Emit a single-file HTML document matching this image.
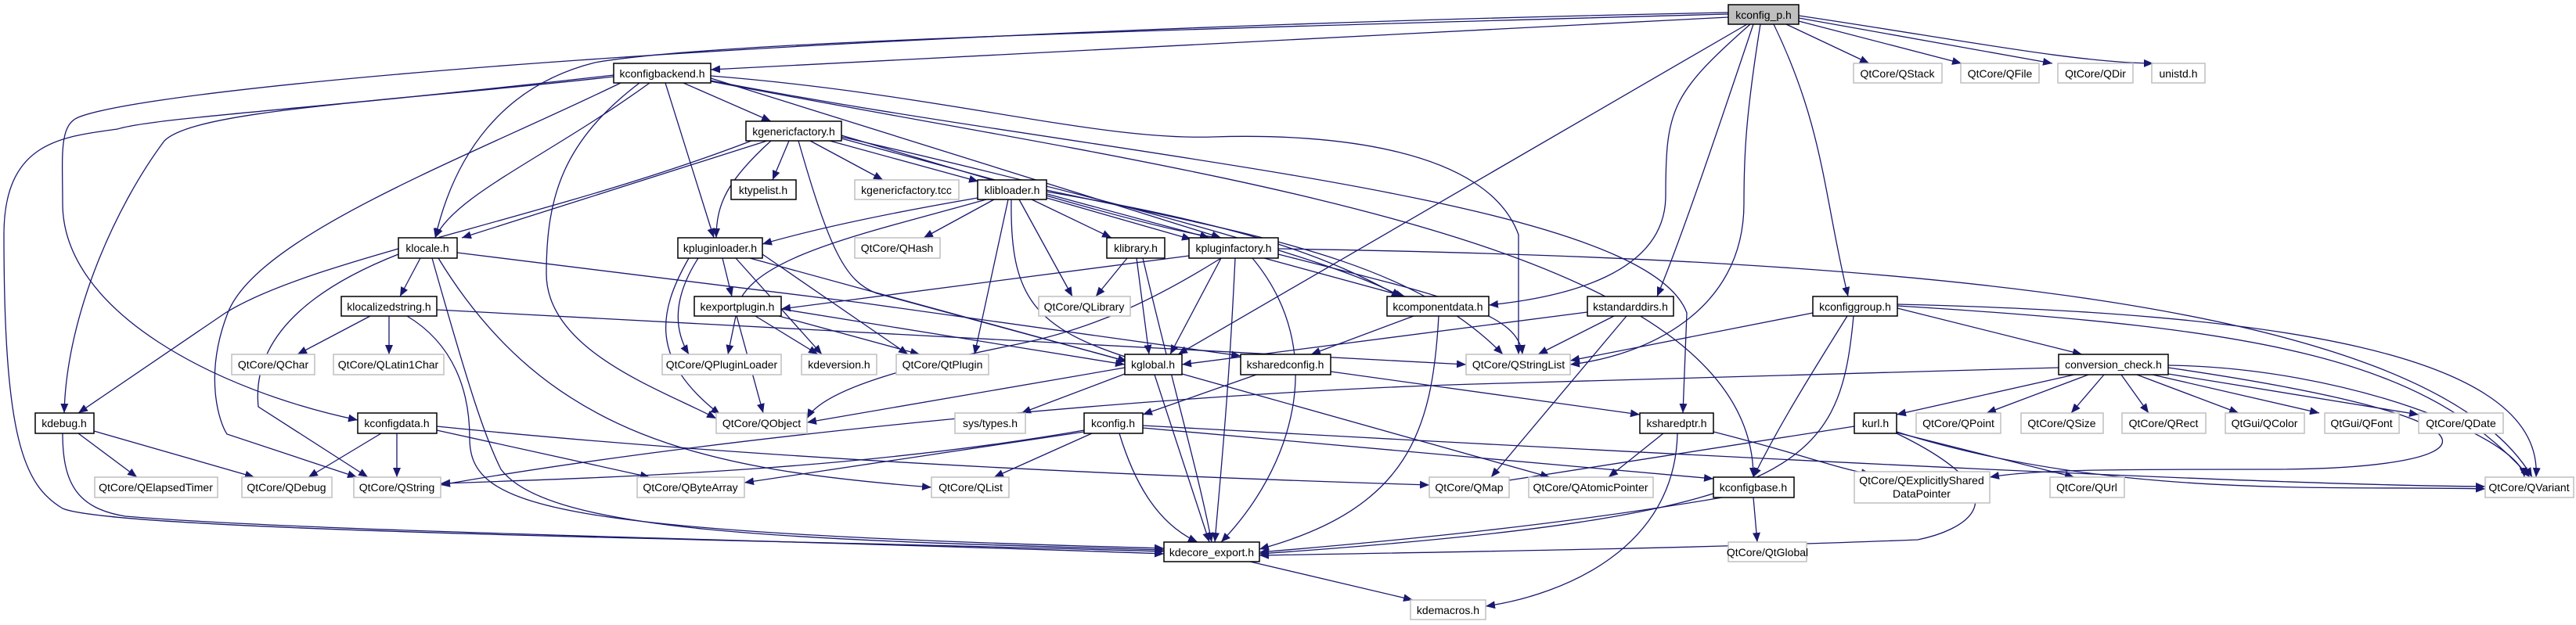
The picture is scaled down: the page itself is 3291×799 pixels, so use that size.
<!DOCTYPE html>
<html><head><meta charset="utf-8"><style>
html,body{margin:0;padding:0;background:#fff;}
svg{display:block;}
text{font-family:"Liberation Sans",Arial,sans-serif;font-size:14px;fill:#000;}
.e{fill:none;stroke:#191970;stroke-width:1.3;marker-end:url(#a);}
.n rect{fill:#fff;stroke:#000;stroke-width:1.5;}
.l rect{fill:#fff;stroke:#bfbfbf;stroke-width:1.5;}
</style></head><body>
<svg width="3291" height="799" viewBox="0 0 3291 799" xmlns="http://www.w3.org/2000/svg">
<defs><marker id="a" markerUnits="userSpaceOnUse" markerWidth="13" markerHeight="10" refX="12" refY="5" orient="auto"><path d="M0,0 L12,5 L0,10 z" fill="#191970"/></marker></defs>
<g>
<!-- kconfig_p -->
<path class="e" d="M2208,22 L908,89"/>
<path class="e" d="M2208,18 C1400,40 900,55 760,80 C640,110 580,200 556,304"/>
<path class="e" d="M2208,16 C1000,40 200,110 100,150 C75,160 80,200 80,260 C80,400 280,500 457,537"/>
<path class="e" d="M2232,31 L1505,453"/>
<path class="e" d="M2236,31 C2135,120 2128,140 2128,250 C2128,350 2000,380 1902,390"/>
<path class="e" d="M2249,31 C2230,150 2228,200 2228,260 C2228,400 2100,455 2006,466"/>
<path class="e" d="M2240,31 C2200,150 2150,300 2117,379"/>
<path class="e" d="M2266,31 C2330,163 2330,250 2361,379"/>
<path class="e" d="M2282,31 L2388,81"/>
<path class="e" d="M2298,27 L2506,81"/>
<path class="e" d="M2298,23 L2622,81"/>
<path class="e" d="M2298,20 C2500,50 2650,80 2751,81"/>
<!-- kconfigbackend -->
<path class="e" d="M784,98 C500,130 250,140 210,180 C150,260 85,400 82,528"/>
<path class="e" d="M784,96 C400,140 200,150 150,165 C80,175 5,180 5,300 C5,560 30,620 80,650 C150,680 1000,690 1487,705"/>
<path class="e" d="M793,106 C600,200 330,300 291,400 C260,480 280,540 290,555 L456,610"/>
<path class="e" d="M830,106 C700,200 580,250 556,304"/>
<path class="e" d="M817,106 C720,180 698,250 698,350 C698,450 850,500 915,535"/>
<path class="e" d="M850,106 L912,304"/>
<path class="e" d="M873,106 L985,155"/>
<path class="e" d="M908,97 C1200,120 1400,180 1550,175 C1700,170 1900,190 1940,300 L1940,453"/>
<path class="e" d="M908,103 C1400,200 2100,250 2155,400 L2150,528"/>
<path class="e" d="M908,100 L1560,304"/>
<path class="e" d="M908,104 C1500,220 2240,300 2240,610"/>
<!-- kgenericfactory -->
<path class="e" d="M960,180 C700,280 400,330 288,400 L100,528"/>
<path class="e" d="M980,180 L590,304"/>
<path class="e" d="M1008,180 L987,230"/>
<path class="e" d="M1035,180 L1128,230"/>
<path class="e" d="M1060,180 L1250,232"/>
<path class="e" d="M985,180 C930,230 915,260 915,304"/>
<path class="e" d="M1075,177 L1545,304"/>
<path class="e" d="M1075,173 C1300,240 1500,300 1560,304"/>
<path class="e" d="M1020,180 C1060,320 1080,360 1120,375 L1440,462"/>
<path class="e" d="M1075,175 C1400,250 1700,330 1790,379"/>
<!-- klibloader -->
<path class="e" d="M1270,255 L1180,304"/>
<path class="e" d="M1302,255 L1370,379"/>
<path class="e" d="M1318,255 L1420,304"/>
<path class="e" d="M1337,253 L1522,306"/>
<path class="e" d="M1249,253 C1150,270 1050,290 974,312"/>
<path class="e" d="M1260,255 C1100,300 950,330 940,400 L975,528"/>
<path class="e" d="M1288,255 L1245,453"/>
<path class="e" d="M1292,255 C1290,380 1320,420 1450,460"/>
<path class="e" d="M1337,245 C1600,290 1700,330 1790,380"/>
<path class="e" d="M1337,243 C1600,300 1800,330 1920,453"/>
<!-- klocale -->
<path class="e" d="M537,330 L511,379"/>
<path class="e" d="M509,325 C420,360 320,420 330,520 L470,610"/>
<path class="e" d="M552,330 C600,500 620,560 640,600 C700,680 1000,690 1487,703"/>
<path class="e" d="M560,330 C700,560 900,600 1190,623"/>
<path class="e" d="M584,323 L1100,387 L1585,455"/>
<!-- klocalizedstring -->
<path class="e" d="M473,404 L380,453"/>
<path class="e" d="M497,404 L497,453"/>
<path class="e" d="M520,404 C580,440 600,500 600,560 C600,650 700,680 1487,701"/>
<path class="e" d="M558,396 L1873,466"/>
<!-- kpluginloader -->
<path class="e" d="M923,330 L935,379"/>
<path class="e" d="M892,330 C860,380 860,420 880,453"/>
<path class="e" d="M880,330 C840,400 830,460 920,530"/>
<path class="e" d="M940,330 L1050,453"/>
<path class="e" d="M958,330 L1440,462"/>
<path class="e" d="M974,325 L1160,453"/>
<!-- kexportplugin -->
<path class="e" d="M940,404 L930,453"/>
<path class="e" d="M965,404 L1045,453"/>
<path class="e" d="M995,404 L1175,453"/>
<path class="e" d="M998,395 L1437,466"/>
<!-- klibrary, kpluginfactory -->
<path class="e" d="M1440,330 L1400,379"/>
<path class="e" d="M1452,330 L1468,453"/>
<path class="e" d="M1460,330 C1500,500 1530,600 1548,693"/>
<path class="e" d="M1560,330 C1480,380 1400,420 1300,440 C1150,470 1050,500 1031,535"/>
<path class="e" d="M1519,327 L998,395"/>
<path class="e" d="M1560,330 L1495,453"/>
<path class="e" d="M1578,330 C1570,500 1560,600 1552,693"/>
<path class="e" d="M1615,330 L1795,379"/>
<path class="e" d="M1633,325 C1850,380 1940,400 1945,453"/>
<path class="e" d="M1633,318 C2400,330 3100,380 3235,610"/>
<path class="e" d="M1600,330 C1700,450 1650,600 1560,693"/>
<!-- kcomponentdata, kstandarddirs, kconfiggroup -->
<path class="e" d="M1806,404 L1675,453"/>
<path class="e" d="M1838,404 C1830,550 1800,650 1609,702"/>
<path class="e" d="M2028,399 L1510,466"/>
<path class="e" d="M2062,404 L1965,453"/>
<path class="e" d="M2078,404 L1905,610"/>
<path class="e" d="M2316,400 L2006,461"/>
<path class="e" d="M2360,404 C2300,500 2270,550 2240,610"/>
<path class="e" d="M2424,394 L2660,453"/>
<path class="e" d="M2368,404 C2350,600 2300,660 1609,708"/>
<path class="e" d="M2424,391 C2900,420 3100,460 3232,610"/>
<path class="e" d="M2424,389 C2900,400 3250,450 3240,610"/>
<!-- conversion_check -->
<path class="e" d="M2630,470 L1920,490 C1500,500 900,560 563,620"/>
<path class="e" d="M2650,479 L2423,530"/>
<path class="e" d="M2668,479 L2538,528"/>
<path class="e" d="M2688,479 L2646,528"/>
<path class="e" d="M2710,479 L2745,528"/>
<path class="e" d="M2730,479 L2860,528"/>
<path class="e" d="M2750,479 L2963,528"/>
<path class="e" d="M2770,478 L3090,530"/>
<path class="e" d="M2770,467 C3000,470 3220,560 3225,610"/>
<path class="e" d="M2770,470 C3250,540 3180,600 2900,600 C2700,600 2600,600 2542,610"/>
<!-- kglobal, ksharedconfig, kconfig -->
<path class="e" d="M1437,478 L1305,528"/>
<path class="e" d="M1437,470 L1031,540"/>
<path class="e" d="M1475,479 L1545,693"/>
<path class="e" d="M1510,478 L1980,610"/>
<path class="e" d="M1605,479 L1460,530"/>
<path class="e" d="M1700,475 L2095,530"/>
<path class="e" d="M1395,554 L1270,610"/>
<path class="e" d="M1385,550 C1100,600 800,610 563,618"/>
<path class="e" d="M1385,552 L951,617"/>
<path class="e" d="M1430,554 C1450,620 1480,670 1530,693"/>
<path class="e" d="M1460,547 L2189,612"/>
<path class="e" d="M1460,544 C2300,590 2900,620 3175,622"/>
<!-- kconfigdata, kdebug -->
<path class="e" d="M487,554 L394,610"/>
<path class="e" d="M507,554 L507,610"/>
<path class="e" d="M558,550 L830,610"/>
<path class="e" d="M558,545 C1000,590 1500,610 1826,620"/>
<path class="e" d="M100,554 L175,610"/>
<path class="e" d="M120,551 L325,610"/>
<path class="e" d="M80,554 C80,620 100,650 160,660 C400,680 1000,690 1487,708"/>
<!-- ksharedptr, kurl, kconfigbase, kdecore_export -->
<path class="e" d="M2125,554 L2055,610"/>
<path class="e" d="M2189,552 C2300,580 2350,600 2390,606"/>
<path class="e" d="M2143,554 C2140,700 2000,760 1898,775"/>
<path class="e" d="M2369,545 L1915,616"/>
<path class="e" d="M2423,553 L2650,610"/>
<path class="e" d="M2423,552 C2700,640 3000,620 3175,625"/>
<path class="e" d="M2423,554 C2600,640 2500,680 2450,690 C2200,700 1900,705 1609,710"/>
<path class="e" d="M2200,636 C2000,670 1800,690 1609,706"/>
<path class="e" d="M2240,636 L2245,693"/>
<path class="e" d="M1597,718 L1805,767"/>
</g>
<g class="n"><rect x="2208" y="6" width="90" height="25" style="fill:#bfbfbf"/><text x="2253" y="24" text-anchor="middle">kconfig_p.h</text></g>
<g class="n"><rect x="784" y="81" width="124" height="25"/><text x="846" y="99" text-anchor="middle">kconfigbackend.h</text></g>
<g class="n"><rect x="953" y="155" width="122" height="25"/><text x="1014" y="173" text-anchor="middle">kgenericfactory.h</text></g>
<g class="n"><rect x="934" y="230" width="83" height="25"/><text x="975" y="248" text-anchor="middle">ktypelist.h</text></g>
<g class="l"><rect x="1092" y="230" width="133" height="25"/><text x="1158" y="248" text-anchor="middle">kgenericfactory.tcc</text></g>
<g class="n"><rect x="1249" y="230" width="88" height="25"/><text x="1293" y="248" text-anchor="middle">klibloader.h</text></g>
<g class="l"><rect x="1092" y="304" width="109" height="26"/><text x="1146" y="322" text-anchor="middle">QtCore/QHash</text></g>
<g class="n"><rect x="509" y="304" width="75" height="26"/><text x="546" y="322" text-anchor="middle">klocale.h</text></g>
<g class="n"><rect x="866" y="304" width="108" height="26"/><text x="920" y="322" text-anchor="middle">kpluginloader.h</text></g>
<g class="n"><rect x="1414" y="304" width="74" height="26"/><text x="1451" y="322" text-anchor="middle">klibrary.h</text></g>
<g class="n"><rect x="1519" y="304" width="114" height="26"/><text x="1576" y="322" text-anchor="middle">kpluginfactory.h</text></g>
<g class="n"><rect x="436" y="379" width="122" height="25"/><text x="497" y="397" text-anchor="middle">klocalizedstring.h</text></g>
<g class="n"><rect x="887" y="379" width="111" height="25"/><text x="942" y="397" text-anchor="middle">kexportplugin.h</text></g>
<g class="l"><rect x="1327" y="379" width="117" height="25"/><text x="1385" y="397" text-anchor="middle">QtCore/QLibrary</text></g>
<g class="n"><rect x="1772" y="379" width="130" height="25"/><text x="1837" y="397" text-anchor="middle">kcomponentdata.h</text></g>
<g class="n"><rect x="2028" y="379" width="110" height="25"/><text x="2083" y="397" text-anchor="middle">kstandarddirs.h</text></g>
<g class="n"><rect x="2316" y="379" width="108" height="25"/><text x="2370" y="397" text-anchor="middle">kconfiggroup.h</text></g>
<g class="l"><rect x="296" y="453" width="106" height="26"/><text x="349" y="471" text-anchor="middle">QtCore/QChar</text></g>
<g class="l"><rect x="426" y="453" width="141" height="26"/><text x="496" y="471" text-anchor="middle">QtCore/QLatin1Char</text></g>
<g class="l"><rect x="846" y="453" width="152" height="26"/><text x="922" y="471" text-anchor="middle">QtCore/QPluginLoader</text></g>
<g class="l"><rect x="1024" y="453" width="96" height="26"/><text x="1072" y="471" text-anchor="middle">kdeversion.h</text></g>
<g class="l"><rect x="1145" y="453" width="118" height="26"/><text x="1204" y="471" text-anchor="middle">QtCore/QtPlugin</text></g>
<g class="n"><rect x="1437" y="453" width="73" height="26"/><text x="1473" y="471" text-anchor="middle">kglobal.h</text></g>
<g class="n"><rect x="1585" y="453" width="115" height="26"/><text x="1642" y="471" text-anchor="middle">ksharedconfig.h</text></g>
<g class="l"><rect x="1873" y="453" width="133" height="26"/><text x="1940" y="471" text-anchor="middle">QtCore/QStringList</text></g>
<g class="n"><rect x="2630" y="453" width="140" height="26"/><text x="2700" y="471" text-anchor="middle">conversion_check.h</text></g>
<g class="l"><rect x="2368" y="81" width="113" height="25"/><text x="2424" y="99" text-anchor="middle">QtCore/QStack</text></g>
<g class="l"><rect x="2505" y="81" width="100" height="25"/><text x="2555" y="99" text-anchor="middle">QtCore/QFile</text></g>
<g class="l"><rect x="2629" y="81" width="96" height="25"/><text x="2677" y="99" text-anchor="middle">QtCore/QDir</text></g>
<g class="l"><rect x="2749" y="81" width="68" height="25"/><text x="2783" y="99" text-anchor="middle">unistd.h</text></g>
<g class="n"><rect x="45" y="528" width="75" height="26"/><text x="82" y="546" text-anchor="middle">kdebug.h</text></g>
<g class="n"><rect x="457" y="528" width="101" height="26"/><text x="507" y="546" text-anchor="middle">kconfigdata.h</text></g>
<g class="l"><rect x="915" y="528" width="116" height="26"/><text x="973" y="546" text-anchor="middle">QtCore/QObject</text></g>
<g class="l"><rect x="1220" y="528" width="90" height="26"/><text x="1265" y="546" text-anchor="middle">sys/types.h</text></g>
<g class="n"><rect x="1385" y="528" width="75" height="26"/><text x="1422" y="546" text-anchor="middle">kconfig.h</text></g>
<g class="n"><rect x="2095" y="528" width="94" height="26"/><text x="2142" y="546" text-anchor="middle">ksharedptr.h</text></g>
<g class="n"><rect x="2369" y="528" width="54" height="26"/><text x="2396" y="546" text-anchor="middle">kurl.h</text></g>
<g class="l"><rect x="2448" y="528" width="108" height="26"/><text x="2502" y="546" text-anchor="middle">QtCore/QPoint</text></g>
<g class="l"><rect x="2582" y="528" width="105" height="26"/><text x="2634" y="546" text-anchor="middle">QtCore/QSize</text></g>
<g class="l"><rect x="2711" y="528" width="107" height="26"/><text x="2764" y="546" text-anchor="middle">QtCore/QRect</text></g>
<g class="l"><rect x="2843" y="528" width="101" height="26"/><text x="2893" y="546" text-anchor="middle">QtGui/QColor</text></g>
<g class="l"><rect x="2970" y="528" width="95" height="26"/><text x="3017" y="546" text-anchor="middle">QtGui/QFont</text></g>
<g class="l"><rect x="3090" y="528" width="108" height="26"/><text x="3144" y="546" text-anchor="middle">QtCore/QDate</text></g>
<g class="l"><rect x="121" y="610" width="157" height="26"/><text x="199" y="628" text-anchor="middle">QtCore/QElapsedTimer</text></g>
<g class="l"><rect x="309" y="610" width="115" height="26"/><text x="366" y="628" text-anchor="middle">QtCore/QDebug</text></g>
<g class="l"><rect x="452" y="610" width="111" height="26"/><text x="507" y="628" text-anchor="middle">QtCore/QString</text></g>
<g class="l"><rect x="814" y="610" width="137" height="26"/><text x="882" y="628" text-anchor="middle">QtCore/QByteArray</text></g>
<g class="l"><rect x="1190" y="610" width="99" height="26"/><text x="1240" y="628" text-anchor="middle">QtCore/QList</text></g>
<g class="l"><rect x="1826" y="610" width="102" height="26"/><text x="1877" y="628" text-anchor="middle">QtCore/QMap</text></g>
<g class="l"><rect x="1953" y="610" width="159" height="26"/><text x="2032" y="628" text-anchor="middle">QtCore/QAtomicPointer</text></g>
<g class="n"><rect x="2189" y="610" width="103" height="26"/><text x="2240" y="628" text-anchor="middle">kconfigbase.h</text></g>
<g class="l"><rect x="2369" y="603" width="173" height="40"/><text x="2455" y="619" text-anchor="middle">QtCore/QExplicitlyShared</text><text x="2455" y="636" text-anchor="middle">DataPointer</text></g>
<g class="l"><rect x="2619" y="610" width="95" height="26"/><text x="2666" y="628" text-anchor="middle">QtCore/QUrl</text></g>
<g class="l"><rect x="3175" y="610" width="113" height="26"/><text x="3231" y="628" text-anchor="middle">QtCore/QVariant</text></g>
<g class="n"><rect x="1487" y="693" width="122" height="25"/><text x="1548" y="711" text-anchor="middle">kdecore_export.h</text></g>
<g class="l"><rect x="2208" y="693" width="100" height="25"/><text x="2258" y="711" text-anchor="middle">QtCore/QtGlobal</text></g>
<g class="l"><rect x="1802" y="767" width="96" height="25"/><text x="1850" y="785" text-anchor="middle">kdemacros.h</text></g>
</svg>
</body></html>
